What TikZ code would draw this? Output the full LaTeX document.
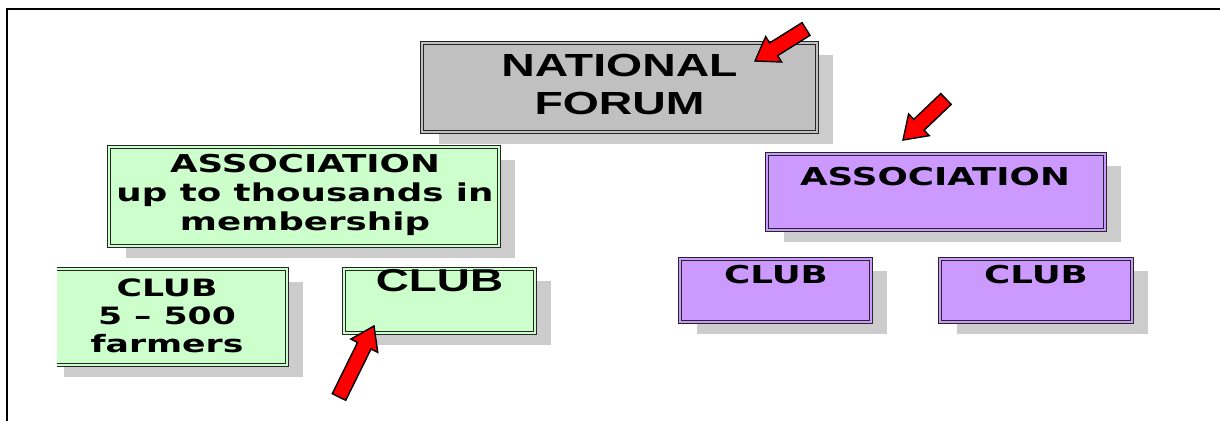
\documentclass[tikz,border=0pt]{standalone}
\usepackage{fontspec}
\usepackage{tikz}
\usetikzlibrary{shadows,calc}

\newfontfamily\verdana[FakeStretch=1.45]{DejaVu Sans}
\newfontfamily\arial[FakeStretch=1.45]{Liberation Sans}
\definecolor{forumgray}{HTML}{C0C0C0}
\definecolor{clubgreen}{HTML}{CCFFCC}
\definecolor{clubpurple}{HTML}{CC99FF}

\begin{document}
\begin{tikzpicture}[x=0.02cm, y=-0.02cm,
    box/.style={draw=black!85, line width=0.6pt, double distance=1.1pt, inner sep=0pt,
        drop shadow={shadow xshift=0.33cm, shadow yshift=-0.25cm, fill=black!20, opacity=1}},
    forumbox/.style={box, fill=forumgray, double=forumgray},
    greenbox/.style={box, fill=clubgreen, double=clubgreen},
    purplebox/.style={box, fill=clubpurple, double=clubpurple},
    bigtext/.style={inner sep=0pt, align=center, font={\arial\bfseries\fontsize{18.2}{21.5}\selectfont}},
    boxtext/.style={inner sep=0pt, align=center, font={\verdana\bfseries\fontsize{14}{16.5}\selectfont}},
    redarrow/.style={draw=black, line width=0.8pt, fill=red, line join=miter}]
    \useasboundingbox (0,0) rectangle (1220,421);

    % Frame
    \draw[line width=1.1pt] (1220,9) -- (7,9) -- (7,421);

    % Define coordinates for the arrows
    \coordinate (NatTail) at (806,29);
    \coordinate (NatTip) at (755,61);
    \coordinate (AssocTail) at (946,99);
    \coordinate (AssocTip) at (903,140);
    \coordinate (ClubTail) at (339,397);
    \coordinate (ClubTip) at (374,326);

    % Top level
    \node[forumbox, minimum width=7.9cm, minimum height=1.78cm] (NationalForum) at (619.5,87.5) {};
    \node[bigtext] (NationalForumText) at (619.5,84.5) {NATIONAL\\FORUM};

    % Left branch (green)
    \node[greenbox, minimum width=7.8cm, minimum height=1.98cm] (AssocLeft) at (304,196.5) {};
    \node[boxtext] (AssocLeftText) at (305,195) {ASSOCIATION\\up to thousands in\\membership};
    \begin{scope}
        \clip (57,0) rectangle (1220,421);
        \node[greenbox, minimum width=4.8cm, minimum height=1.92cm] (ClubFarmers) at (167,317) {};
    \end{scope}
    \node[boxtext, font={\verdana\bfseries\fontsize{13.6}{16}\selectfont}] (ClubFarmersText) at (167,315.6) {CLUB\\5 – 500\\farmers};
    \node[greenbox, minimum width=3.82cm, minimum height=1.28cm] (ClubLeft) at (439.5,301) {};
    \node[inner sep=0pt, font={\arial\bfseries\fontsize{18}{20}\selectfont}] (ClubLeftText) at (439.5,281) {CLUB};

    % Right branch (purple)
    \node[purplebox, minimum width=6.76cm, minimum height=1.52cm] (AssocRight) at (936,192) {};
    \node[boxtext] (AssocRightText) at (935,176.5) {ASSOCIATION};
    \node[purplebox, minimum width=3.82cm, minimum height=1.26cm] (ClubRightA) at (775.5,290.5) {};
    \node[boxtext] (ClubRightAText) at (776,274.5) {CLUB};
    \node[purplebox, minimum width=3.84cm, minimum height=1.26cm] (ClubRightB) at (1036,290.5) {};
    \node[boxtext] (ClubRightBText) at (1036,274.5) {CLUB};

    % Red block arrows
    \foreach \arr in {Nat, Assoc, Club} {
        \coordinate (\arr Head) at ($(\arr Tip)!0.44cm!(\arr Tail)$);
        \draw[redarrow] ($(\arr Tail)!0.15cm!90:(\arr Tip)$) -- ($(\arr Head)!0.15cm!-90:(\arr Tail)$)
            -- ($(\arr Head)!0.3cm!-90:(\arr Tail)$) -- (\arr Tip) -- ($(\arr Head)!0.3cm!90:(\arr Tail)$)
            -- ($(\arr Head)!0.15cm!90:(\arr Tail)$) -- ($(\arr Tail)!0.15cm!-90:(\arr Tip)$) -- cycle;
    }
\end{tikzpicture}
\end{document}
